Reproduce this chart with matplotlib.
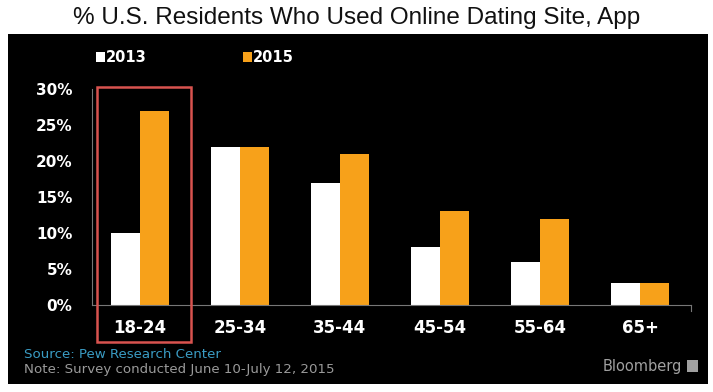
import numpy as np
import matplotlib.pyplot as plt
from matplotlib.patches import Rectangle

ages = ['18-24', '25-34', '35-44', '45-54', '55-64', '65+']
pct_2013 = [10, 22, 17, 8, 6, 3]
pct_2015 = [27, 22, 21, 13, 12, 3]
yticks = [0, 5, 10, 15, 20, 25, 30]

white = '#ffffff'
orange = '#f7a11a'

W, H = 713, 392
fig = plt.figure(figsize=(W / 100, H / 100), dpi=100)
fig.patch.set_facecolor('white')

# black panel behind the chart
fig.add_artist(Rectangle((8 / W, 1 - 384 / H), 700 / W, 350 / H,
                         transform=fig.transFigure, facecolor='black',
                         edgecolor='none', zorder=0))

fig.text(357 / W, 1 - 18 / H, '% U.S. Residents Who Used Online Dating Site, App',
         ha='center', va='center', fontsize=17.5, family='Liberation Sans', color='#111111')

ax = fig.add_axes([92 / W, 1 - 305 / H, 599 / W, 216 / H])
ax.set_facecolor('black')
ax.patch.set_alpha(0)

x = np.arange(len(ages))
w = 0.29
ax.bar(x - w / 2, pct_2013, w, color=white, zorder=2)
ax.bar(x + w / 2, pct_2015, w, color=orange, zorder=2)

ax.set_xlim(-0.48, 5.51)
ax.set_ylim(0, 30)
ax.set_yticks(yticks)
ax.set_yticklabels([f'{t}%' for t in yticks])
ax.set_xticks(x)
ax.set_xticklabels(ages)

for s in ['top', 'right']:
    ax.spines[s].set_visible(False)
for s in ['left', 'bottom']:
    ax.spines[s].set_color('#777777')
    ax.spines[s].set_linewidth(0.8)

ax.tick_params(axis='y', length=0, pad=14, labelsize=11, labelcolor='white')
ax.tick_params(axis='x', length=0, pad=10, labelsize=12, labelcolor='white')
for lab in ax.get_xticklabels() + ax.get_yticklabels():
    lab.set_fontweight('bold')
ax.plot([5.51, 5.51], [0, -0.8], color='#777777', lw=0.8, clip_on=False)

# legend
fig.add_artist(Rectangle((96 / W, 1 - 62 / H), 9 / W, 10 / H, transform=fig.transFigure,
                         facecolor=white, edgecolor='none'))
fig.text(106 / W, 1 - 57 / H, '2013', color='white', fontsize=10.5, fontweight='bold',
         va='center', ha='left')
fig.add_artist(Rectangle((243 / W, 1 - 62 / H), 9 / W, 10 / H, transform=fig.transFigure,
                         facecolor=orange, edgecolor='none'))
fig.text(253 / W, 1 - 57 / H, '2015', color='white', fontsize=10.5, fontweight='bold',
         va='center', ha='left')

# highlight box around 18-24
fig.add_artist(Rectangle((97 / W, 1 - 342 / H), 94 / W, 255 / H, transform=fig.transFigure,
                         facecolor='none', edgecolor='#d9534f', linewidth=1.8, zorder=5))

fig.text(24 / W, 1 - 354 / H, 'Source: Pew Research Center', color='#3a9cc4',
         fontsize=9.6, va='center', ha='left')
fig.text(24 / W, 1 - 370 / H, 'Note: Survey conducted June 10-July 12, 2015', color='#9a9a9a',
         fontsize=9.6, va='center', ha='left')
fig.text(682 / W, 1 - 366 / H, 'Bloomberg', color='#a0a0a0', fontsize=10.5,
         va='center', ha='right')
fig.add_artist(Rectangle((687 / W, 1 - 372 / H), 11 / W, 12 / H, transform=fig.transFigure,
                         facecolor='#a0a0a0', edgecolor='none'))

fig.savefig('out.png', dpi=100)
